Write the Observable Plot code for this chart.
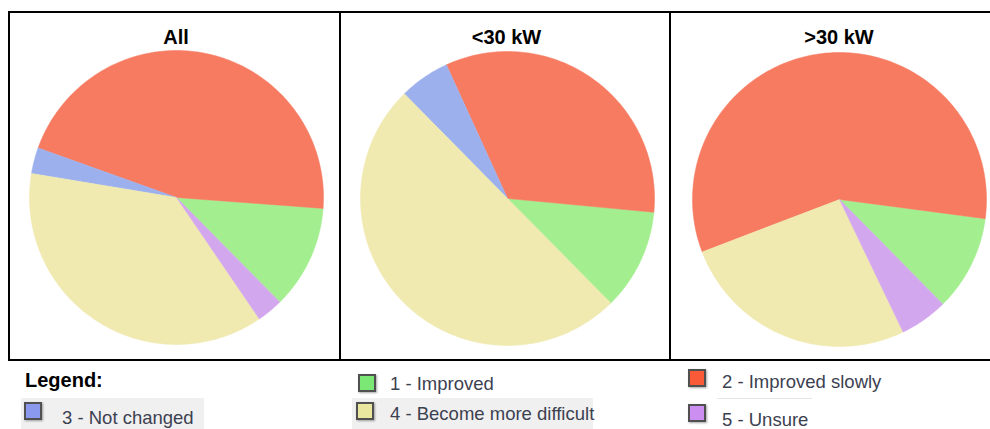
<!DOCTYPE html>
<html>
<head>
<meta charset="utf-8">
<script src="https://cdn.jsdelivr.net/npm/d3@7"></script>
<script src="https://cdn.jsdelivr.net/npm/@observablehq/plot@0.6"></script>
<style>
  html, body { margin: 0; padding: 0; background: #fff; }
  body { width: 990px; height: 429px; overflow: hidden; position: relative;
         font-family: "Liberation Sans", Arial, Helvetica, sans-serif; }
  .abs { position: absolute; }
  .rule { position: absolute; background: #000; }
  .title { position: absolute; width: 200px; text-align: center; font-weight: bold;
           font-size: 20px; line-height: 20px; color: #000; }
  .chart { position: absolute; width: 330px; height: 346px; }
  .chart svg { overflow: visible; max-width: none !important; width: 330px !important; height: 346px !important; }
  .sw { position: absolute; width: 14px; height: 14px; border: 2px solid #505050;
        box-shadow: 1px 1px 2px rgba(0,0,0,0.35); }
  .lt { position: absolute; font-size: 18.5px; line-height: 16px; color: #3c4150; white-space: nowrap; }
  .bg { position: absolute; background: #f0f0f0; }
</style>
</head>
<body>
<div id="root"></div>
<script>
// ---- data ----
const categories = ["1 - Improved", "2 - Improved slowly", "3 - Not changed", "4 - Become more difficult", "5 - Unsure"];
const sliceColors = ["#a3ef8f", "#f67b61", "#9cb0ee", "#f0e9b0", "#d3a7ee"];
const legendColors = ["#7be876", "#fa5a38", "#8a98ee", "#e9e6a0", "#cc8ef0"];
const panelTitles = ["All", "<30 kW", ">30 kW"];
const allValues = [4, 16, 1, 13, 1];
const under30Values = [2, 6, 1, 9, 0];
const over30Values = [2, 11, 0, 5, 1];
const startDegrees = 135.4; // first slice starts here (clockwise from 12 o'clock), slices run counter-clockwise

const panelValues = [allValues, under30Values, over30Values];
const panelCenters = [[176, 197], [506.5, 198], [839, 199]];

const root = document.getElementById("root");

function pieFeatures(values) {
  const start = startDegrees * Math.PI / 180;
  const rows = categories.map((c, i) => ({category: c, value: values[i]}));
  const arcs = d3.pie().sort(null).value(d => d.value)
    .startAngle(start).endAngle(start - 2 * Math.PI)(rows);
  return arcs.filter(a => a.value > 0).map(a => {
    const span = a.endAngle - a.startAngle;
    const n = Math.max(2, Math.ceil(Math.abs(span) / (Math.PI / 180)));
    const ring = [[0, 0]];
    for (let i = 0; i <= n; i++) {
      const t = a.startAngle + span * i / n;
      ring.push([Math.sin(t), -Math.cos(t)]);
    }
    ring.push([0, 0]);
    return {type: "Feature", properties: {category: a.data.category},
            geometry: {type: "Polygon", coordinates: [ring]}};
  });
}

panelTitles.forEach((title, p) => {
  const [cx, cy] = panelCenters[p];
  const chart = Plot.plot({
    width: 330, height: 346,
    marginTop: 48, marginBottom: 4, marginLeft: 18, marginRight: 18,
    style: {maxWidth: "none"},
    projection: {type: "identity", inset: 0,
                 domain: {type: "MultiPoint", coordinates: [[-1, -1], [1, 1]]}},
    color: {type: "ordinal", domain: categories, range: sliceColors},
    marks: [
      Plot.geo(pieFeatures(panelValues[p]), {
        fill: d => d.properties.category,
        stroke: d => d.properties.category,
        strokeWidth: 0.5
      })
    ]
  });
  const wrap = document.createElement("div");
  wrap.className = "chart";
  wrap.style.left = (cx - 165) + "px";
  wrap.style.top = (cy - 195) + "px";
  wrap.appendChild(chart);
  root.appendChild(wrap);

  const t = document.createElement("div");
  t.className = "title";
  t.textContent = title;
  t.style.left = (cx - 100) + "px";
  t.style.top = "27px";
  root.appendChild(t);
});

// ---- table rules ----
const rules = [
  [8, 11, 982, 2],   // top
  [8, 11, 2, 350],   // left
  [339, 11, 2, 350], // divider 1
  [669, 11, 2, 350], // divider 2
  [8, 359, 982, 2]   // bottom of charts row
];
rules.forEach(([x, y, w, h]) => {
  const d = document.createElement("div");
  d.className = "rule";
  Object.assign(d.style, {left: x + "px", top: y + "px", width: w + "px", height: h + "px"});
  root.appendChild(d);
});

// ---- legend ----
function el(cls, style, text) {
  const d = document.createElement("div");
  d.className = cls;
  Object.assign(d.style, style);
  if (text != null) d.textContent = text;
  root.appendChild(d);
  return d;
}
el("bg", {left: "21px", top: "398px", width: "183px", height: "31px"});
el("bg", {left: "352px", top: "398px", width: "241px", height: "31px"});
el("bg", {left: "717px", top: "398px", width: "95px", height: "1px", background: "#e6e6e6"});

el("abs", {left: "25px", top: "370px", fontWeight: "bold", fontSize: "20px", lineHeight: "20px", color: "#000"}, "Legend:");

const legendPos = [
  {sq: [358, 374], tx: [390, 376]},  // 1
  {sq: [688, 369], tx: [722, 374]},  // 2
  {sq: [24, 402], tx: [62, 410]},    // 3
  {sq: [356, 402], tx: [390, 406]},  // 4
  {sq: [688, 404], tx: [722, 412]}   // 5
];
categories.forEach((c, i) => {
  const {sq, tx} = legendPos[i];
  el("sw", {left: sq[0] + "px", top: sq[1] + "px", background: legendColors[i]});
  el("lt", {left: tx[0] + "px", top: tx[1] + "px"}, c);
});
</script>
</body>
</html>
